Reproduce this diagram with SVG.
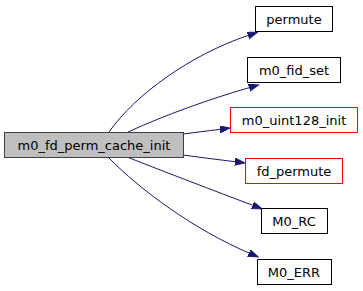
<svg xmlns="http://www.w3.org/2000/svg" width="363" height="291" viewBox="0 0 363 291">
  <style>
    .node rect { fill: #ffffff; stroke: #000000; stroke-width: 1; }
    .node.root rect { fill: #bfbfbf; stroke: #404040; }
    .node.missing rect { stroke: #ff0000; }
    .node text { font-family: "DejaVu Sans", "Liberation Sans", sans-serif; font-size: 13px; fill: #000000; text-anchor: middle; }
    .edge { fill: none; stroke: #191970; stroke-width: 1; marker-end: url(#arrow); }
  </style>
  <defs>
    <marker id="arrow" markerUnits="userSpaceOnUse" markerWidth="11" markerHeight="8" refX="0" refY="3.5" orient="auto">
      <path d="M0,0 L10,3.5 L0,7 Z" fill="#191970" stroke="#191970" stroke-width="1"/>
    </marker>
  </defs>
  <rect width="363" height="291" fill="#ffffff"/>

  <g id="edges">
    <path class="edge" d="M109,132 C135,95 190,55 248,35.5"/>
    <path class="edge" d="M128,132 C165,115 210,99 249,87.7"/>
    <path class="edge" d="M183,134 C195,132.5 207,131 220,129.3"/>
    <path class="edge" d="M183,155 C200,157.5 218,159.5 235,161.7"/>
    <path class="edge" d="M127,157 C165,172 215,191 252.7,205.3"/>
    <path class="edge" d="M108,157 C140,190 195,230 249,253"/>
  </g>

  <g id="node-m0_fd_perm_cache_init" class="node root">
    <rect x="4.5" y="132.5" width="179" height="25"/>
    <text x="94" y="149.5">m0_fd_perm_cache_init</text>
  </g>
  <g id="node-permute" class="node">
    <rect x="255.5" y="6.5" width="77" height="25"/>
    <text x="294" y="23.5">permute</text>
  </g>
  <g id="node-m0_fid_set" class="node">
    <rect x="247.5" y="57.5" width="93" height="25"/>
    <text x="294" y="74.5">m0_fid_set</text>
  </g>
  <g id="node-m0_uint128_init" class="node missing">
    <rect x="230.5" y="107.5" width="127" height="25"/>
    <text x="294" y="124.5">m0_uint128_init</text>
  </g>
  <g id="node-fd_permute" class="node missing">
    <rect x="245.5" y="158.5" width="97" height="25"/>
    <text x="294" y="175.5">fd_permute</text>
  </g>
  <g id="node-M0_RC" class="node">
    <rect x="261.5" y="208.5" width="66" height="25"/>
    <text x="294" y="225.5">M0_RC</text>
  </g>
  <g id="node-M0_ERR" class="node">
    <rect x="257.5" y="259.5" width="74" height="25"/>
    <text x="294" y="276.5">M0_ERR</text>
  </g>
</svg>
